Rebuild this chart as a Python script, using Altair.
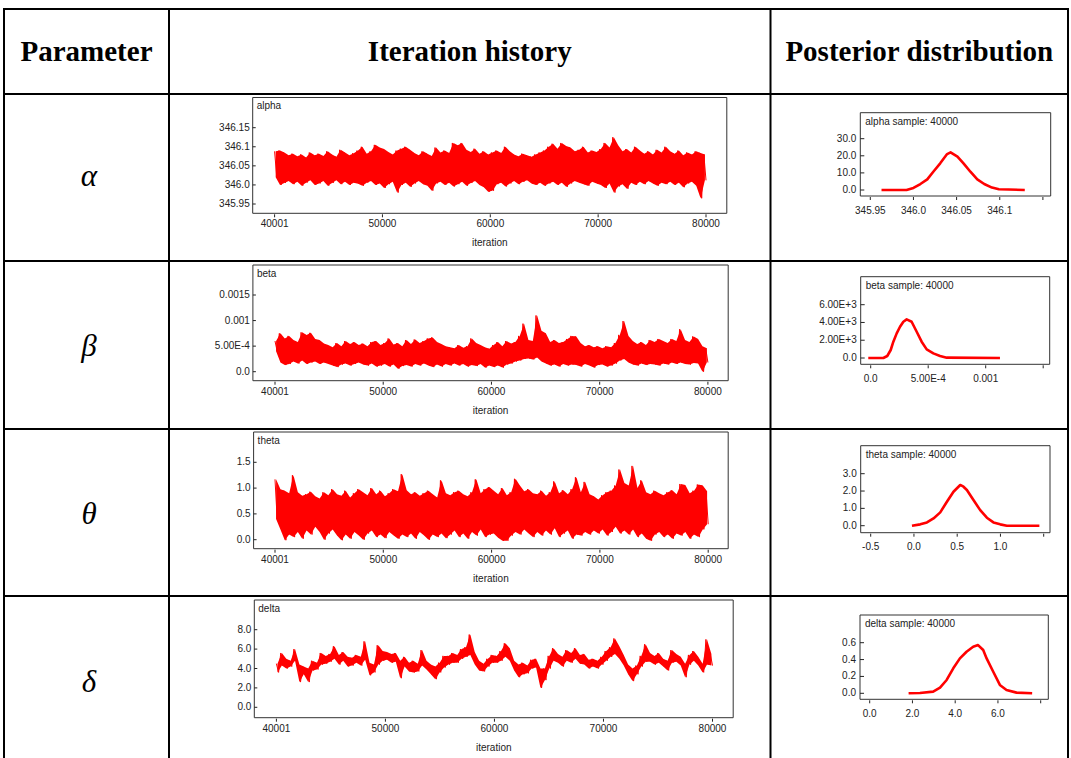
import altair as alt
import pandas as pd

# ------------------------------------------------------------------ data
headers = ["Parameter", "Iteration history", "Posterior distribution"]
parameters = ["α", "β", "θ", "δ"]
trace_names = ["alpha", "beta", "theta", "delta"]
sample_size = 40000

iter_ticks = [40001, 50000, 60000, 70000, 80000]
iter_tick_labels = ["40001", "50000", "60000", "70000", "80000"]

# iteration-history envelopes (upper / lower excursions, 100 blocks of 400 iterations)
alpha_hi = [346.088, 346.090, 346.085, 346.078, 346.082, 346.075, 346.080, 346.072, 346.085, 346.078,
            346.082, 346.076, 346.088, 346.080, 346.074, 346.092, 346.085, 346.078, 346.083, 346.090,
            346.100, 346.082, 346.088, 346.105, 346.098, 346.094, 346.086, 346.080, 346.090, 346.095,
            346.100, 346.092, 346.084, 346.078, 346.088, 346.082, 346.076, 346.098, 346.085, 346.090,
            346.084, 346.110, 346.104, 346.110, 346.092, 346.086, 346.095, 346.082, 346.088, 346.080,
            346.085, 346.090, 346.084, 346.100, 346.088, 346.080, 346.075, 346.082, 346.078, 346.074,
            346.080, 346.085, 346.090, 346.100, 346.108, 346.095, 346.110, 346.102, 346.098, 346.088,
            346.092, 346.100, 346.085, 346.090, 346.086, 346.094, 346.110, 346.098, 346.125, 346.104,
            346.088, 346.094, 346.085, 346.100, 346.090, 346.082, 346.088, 346.080, 346.092, 346.085,
            346.100, 346.088, 346.082, 346.090, 346.078, 346.085, 346.080, 346.088, 346.084, 346.080]
alpha_lo = [346.020, 346.000, 346.005, 346.010, 346.002, 346.008, 345.998, 346.006, 346.012, 346.000,
            346.004, 346.010, 345.998, 346.005, 346.012, 346.002, 346.008, 346.000, 346.006, 346.003,
            345.998, 346.006, 346.010, 346.000, 346.004, 345.992, 346.002, 346.008, 345.980, 346.000,
            346.006, 345.995, 346.004, 346.010, 346.002, 345.998, 345.985, 346.004, 346.008, 346.000,
            346.006, 345.996, 346.002, 346.008, 345.998, 346.005, 346.010, 346.000, 345.994, 345.982,
            345.985, 346.002, 346.006, 345.996, 346.004, 346.010, 346.002, 346.008, 346.012, 346.004,
            346.000, 346.006, 345.998, 346.004, 346.008, 346.000, 346.006, 345.995, 346.004, 346.010,
            346.006, 346.002, 345.998, 346.008, 346.004, 346.000, 345.992, 346.004, 345.980, 345.996,
            346.002, 345.990, 346.006, 346.000, 346.008, 346.002, 346.010, 346.004, 345.998, 346.006,
            346.002, 346.008, 346.000, 346.006, 345.994, 346.004, 346.008, 345.998, 345.965, 346.012]

beta_hi = [6.0e-4, 7.5e-4, 6.5e-4, 7.0e-4, 6.2e-4, 5.8e-4, 7.7e-4, 7.2e-4, 7.6e-4, 6.4e-4,
           6.2e-4, 5.5e-4, 5.2e-4, 4.8e-4, 5.6e-4, 5.0e-4, 6.0e-4, 5.4e-4, 5.8e-4, 5.2e-4,
           5.5e-4, 5.0e-4, 5.8e-4, 6.0e-4, 5.2e-4, 5.6e-4, 6.5e-4, 5.3e-4, 5.6e-4, 5.0e-4,
           6.2e-4, 5.4e-4, 6.3e-4, 5.6e-4, 6.0e-4, 6.5e-4, 6.7e-4, 5.8e-4, 5.4e-4, 5.0e-4,
           4.8e-4, 4.6e-4, 5.2e-4, 4.7e-4, 5.0e-4, 6.5e-4, 5.6e-4, 5.2e-4, 4.8e-4, 4.5e-4,
           5.2e-4, 5.8e-4, 5.0e-4, 6.0e-4, 5.5e-4, 5.8e-4, 7.0e-4, 9.4e-4, 6.2e-4, 6.0e-4,
           1.1e-3, 8.0e-4, 7.5e-4, 5.8e-4, 6.2e-4, 5.6e-4, 5.8e-4, 6.4e-4, 7.0e-4, 6.9e-4,
           5.6e-4, 5.0e-4, 5.2e-4, 4.8e-4, 5.0e-4, 4.6e-4, 5.0e-4, 4.8e-4, 5.6e-4, 7.2e-4,
           9.9e-4, 7.0e-4, 6.0e-4, 5.4e-4, 5.8e-4, 5.2e-4, 6.2e-4, 5.8e-4, 6.4e-4, 6.0e-4,
           5.6e-4, 6.4e-4, 6.0e-4, 8.3e-4, 6.2e-4, 5.8e-4, 6.9e-4, 6.4e-4, 5.0e-4, 4.6e-4]
beta_lo = [4.0e-4, 1.8e-4, 1.3e-4, 1.5e-4, 2.0e-4, 1.6e-4, 2.2e-4, 1.5e-4, 1.8e-4, 2.0e-4,
           1.5e-4, 1.8e-4, 1.5e-4, 1.2e-4, 0.9e-4, 1.4e-4, 1.6e-4, 1.2e-4, 1.5e-4, 1.8e-4,
           1.4e-4, 1.2e-4, 1.6e-4, 1.0e-4, 1.2e-4, 1.5e-4, 1.0e-4, 1.4e-4, 0.6e-4, 1.1e-4,
           1.3e-4, 1.0e-4, 1.5e-4, 1.2e-4, 1.6e-4, 1.2e-4, 0.9e-4, 1.4e-4, 1.0e-4, 1.5e-4,
           1.2e-4, 1.6e-4, 1.2e-4, 1.5e-4, 1.0e-4, 1.3e-4, 1.1e-4, 1.5e-4, 0.8e-4, 1.2e-4,
           0.9e-4, 1.2e-4, 0.8e-4, 1.4e-4, 1.6e-4, 2.0e-4, 2.2e-4, 2.5e-4, 2.6e-4, 2.4e-4,
           2.8e-4, 2.0e-4, 1.6e-4, 1.2e-4, 1.4e-4, 1.0e-4, 1.5e-4, 1.2e-4, 1.4e-4, 1.3e-4,
           1.0e-4, 1.5e-4, 1.2e-4, 0.8e-4, 1.3e-4, 1.4e-4, 1.0e-4, 1.2e-4, 1.6e-4, 2.2e-4,
           2.5e-4, 1.8e-4, 1.4e-4, 1.2e-4, 1.6e-4, 1.3e-4, 1.5e-4, 1.4e-4, 1.2e-4, 1.6e-4,
           1.4e-4, 1.8e-4, 1.5e-4, 1.8e-4, 1.5e-4, 1.4e-4, 1.7e-4, 1.6e-4, 0.0, 1.8e-4]

theta_hi = [1.17, 0.98, 0.95, 0.90, 1.25, 0.92, 0.85, 0.88, 0.93, 0.84,
            0.80, 0.92, 0.86, 0.98, 0.88, 0.85, 0.95, 0.82, 0.90, 0.98,
            0.92, 0.86, 1.00, 0.88, 0.95, 0.84, 0.90, 0.98, 0.94, 1.27,
            0.96, 0.88, 0.92, 0.85, 0.90, 0.95, 0.88, 0.82, 1.15, 0.90,
            0.86, 0.92, 0.95, 0.88, 0.84, 0.92, 1.17, 0.90, 0.98, 1.02,
            0.95, 0.88, 1.00, 0.86, 0.92, 1.18, 1.05, 0.94, 0.98, 0.90,
            0.88, 0.95, 0.85, 0.92, 1.13, 0.90, 0.96, 0.88, 0.98, 1.21,
            0.92, 1.12, 0.88, 0.84, 0.78, 0.86, 0.92, 0.95, 1.05, 1.36,
            1.10, 1.05, 1.43, 1.00, 1.15, 0.92, 0.88, 0.95, 0.90, 0.86,
            0.92, 0.96, 0.88, 1.08, 1.06, 0.90, 0.95, 1.07, 1.05, 0.94]
theta_lo = [0.40, 0.20, -0.01, 0.10, 0.05, 0.15, 0.02, 0.18, 0.10, 0.25,
            0.15, 0.00, 0.12, 0.20, 0.08, -0.01, 0.10, 0.02, 0.15, 0.08,
            0.00, 0.12, 0.18, 0.05, 0.10, 0.03, 0.15, 0.08, 0.02, 0.10,
            0.05, 0.12, 0.02, 0.15, 0.08, 0.00, 0.10, 0.05, 0.12, 0.03,
            0.10, 0.18, 0.05, 0.12, 0.02, 0.15, 0.08, 0.20, 0.05, 0.10,
            0.12, 0.04, -0.02, -0.02, 0.08, 0.15, 0.10, 0.20, 0.12, 0.05,
            0.15, 0.08, 0.18, 0.10, 0.22, 0.05, 0.12, 0.18, 0.02, 0.10,
            0.08, 0.15, 0.10, 0.18, 0.12, 0.20, 0.08, 0.15, 0.25, 0.12,
            0.18, 0.10, 0.20, 0.05, 0.12, 0.02, -0.02, 0.10, 0.15, 0.05,
            0.10, 0.02, 0.12, 0.08, 0.15, 0.02, 0.10, 0.05, 0.20, 0.30]

delta_hi = [4.5, 5.6, 5.0, 4.8, 6.0, 4.4, 4.2, 4.0, 4.8, 4.6,
            5.6, 5.3, 5.5, 6.3, 5.4, 5.7, 5.2, 5.1, 5.4, 5.2,
            6.8, 4.6, 4.4, 6.4, 5.8, 5.7, 5.5, 5.6, 4.8, 5.2,
            4.6, 4.8, 4.5, 5.9, 4.8, 4.4, 4.2, 4.6, 5.3, 5.3,
            5.6, 5.4, 6.0, 6.2, 7.5, 5.7, 4.8, 4.5, 5.0, 5.4,
            5.3, 5.8, 6.6, 6.1, 4.8, 4.4, 4.6, 4.3, 4.9, 5.0,
            4.0, 4.0, 5.3, 6.1, 5.5, 5.2, 5.9, 5.6, 6.1, 5.4,
            5.5, 4.9, 5.0, 4.8, 5.2, 5.8, 6.2, 7.1, 6.3, 5.4,
            4.4, 4.0, 4.3, 5.3, 6.5, 5.6, 5.3, 5.6, 5.0, 4.8,
            5.9, 5.5, 5.2, 4.5, 5.4, 5.8, 5.2, 4.5, 7.0, 5.5]
delta_lo = [3.6, 4.3, 4.0, 4.2, 4.8, 2.6, 3.4, 2.6, 3.8, 3.9,
            4.4, 4.5, 4.7, 5.0, 4.4, 4.8, 4.2, 4.3, 4.6, 4.3,
            4.9, 3.3, 3.6, 4.4, 4.8, 4.9, 4.6, 4.7, 3.0, 4.2,
            3.7, 3.6, 3.7, 4.3, 3.9, 3.4, 2.9, 3.6, 4.1, 4.4,
            4.6, 4.6, 5.0, 5.2, 5.4, 4.4, 3.8, 3.7, 4.2, 4.6,
            4.6, 4.8, 5.2, 4.8, 3.8, 3.1, 3.4, 3.5, 4.0, 4.1,
            2.0, 2.8, 4.0, 4.8, 4.6, 4.2, 4.8, 4.6, 5.0, 4.5,
            4.4, 4.0, 4.2, 4.0, 4.4, 4.8, 5.2, 5.5, 5.0, 4.3,
            3.4, 2.7, 3.4, 4.2, 4.7, 4.7, 4.4, 4.6, 4.2, 3.8,
            4.6, 4.7, 4.3, 3.1, 4.4, 4.8, 4.3, 3.6, 4.4, 4.3]

# posterior densities
alpha_dens_x = [345.963, 345.992, 346.000, 346.008, 346.016, 346.023, 346.031, 346.039, 346.043,
                346.051, 346.058, 346.066, 346.074, 346.082, 346.091, 346.099, 346.129]
alpha_dens_y = [0, 0, 1.2, 3.5, 6.2, 10.7, 15.6, 21.0, 22.0, 19.5, 15.6, 10.7, 6.2, 3.5, 1.4, 0.4, 0]
beta_dens_x = [-0.21e-4, 1.1e-4, 1.44e-4, 1.74e-4, 1.97e-4, 2.26e-4, 2.55e-4, 2.84e-4, 3.13e-4, 3.56e-4,
               4.0e-4, 4.43e-4, 4.87e-4, 5.45e-4, 6.03e-4, 6.61e-4, 11.24e-4]
beta_dens_y = [0, 0, 225, 900, 1835, 2771, 3520, 4082, 4344, 4082, 2958, 1835, 974, 524, 225, 37, 0]
theta_dens_x = [-0.023, 0.073, 0.15, 0.226, 0.304, 0.381, 0.457, 0.535, 0.573, 0.612, 0.688,
                0.766, 0.843, 0.919, 0.997, 1.074, 1.45]
theta_dens_y = [0, 0.077, 0.19, 0.42, 0.77, 1.38, 1.96, 2.35, 2.25, 2.06, 1.48, 0.90, 0.46,
                0.19, 0.077, 0, 0]
delta_dens_x = [1.82, 2.35, 2.97, 3.29, 3.6, 3.91, 4.22, 4.53, 4.84, 5.07, 5.31, 5.47, 5.78,
                6.09, 6.4, 6.87, 7.6]
delta_dens_y = [0, 0.004, 0.02, 0.067, 0.158, 0.296, 0.414, 0.493, 0.552, 0.572, 0.513, 0.414,
                0.256, 0.099, 0.039, 0.008, 0]

# axis ticks
trace_yticks = {
    "alpha": ([345.95, 346.0, 346.05, 346.1, 346.15], ["345.95", "346.0", "346.05", "346.1", "346.15"]),
    "beta": ([0.0, 5e-4, 1e-3, 1.5e-3], ["0.0", "5.00E-4", "0.001", "0.0015"]),
    "theta": ([0.0, 0.5, 1.0, 1.5], ["0.0", "0.5", "1.0", "1.5"]),
    "delta": ([0.0, 2.0, 4.0, 6.0, 8.0], ["0.0", "2.0", "4.0", "6.0", "8.0"]),
}
dens_xticks = {
    "alpha": ([345.95, 346.0, 346.05, 346.1, 346.15], ["345.95", "346.0", "346.05", "346.1", ""]),
    "beta": ([0.0, 5e-4, 1e-3, 1.5e-3], ["0.0", "5.00E-4", "0.001", ""]),
    "theta": ([-0.5, 0.0, 0.5, 1.0, 1.5], ["-0.5", "0.0", "0.5", "1.0", ""]),
    "delta": ([0.0, 2.0, 4.0, 6.0, 8.0], ["0.0", "2.0", "4.0", "6.0", ""]),
}
dens_yticks = {
    "alpha": ([0, 10, 20, 30], ["0.0", "10.0", "20.0", "30.0"]),
    "beta": ([0, 2000, 4000, 6000], ["0.0", "2.00E+3", "4.00E+3", "6.00E+3"]),
    "theta": ([0, 1, 2, 3], ["0.0", "1.0", "2.0", "3.0"]),
    "delta": ([0, 0.2, 0.4, 0.6], ["0.0", "0.2", "0.4", "0.6"]),
}

traces = {"alpha": (alpha_hi, alpha_lo), "beta": (beta_hi, beta_lo),
          "theta": (theta_hi, theta_lo), "delta": (delta_hi, delta_lo)}
densities = {"alpha": (alpha_dens_x, alpha_dens_y), "beta": (beta_dens_x, beta_dens_y),
             "theta": (theta_dens_x, theta_dens_y), "delta": (delta_dens_x, delta_dens_y)}

# ------------------------------------------------------------------ layout (pixels)
W, H = 1071, 758
RED = "#ff0000"
INK = "#222222"
SANS = "Liberation Sans"
SERIF = "Liberation Serif"

col_x = [4, 169, 770.5, 1068]
row_y = [9, 94, 261, 429, 596]
trace_layout = {
    "alpha": dict(frame=(252.7, 726.8, 97.5, 213.3), xr=(274.6, 706.0), yr=(204.0, 127.7)),
    "beta": dict(frame=(252.9, 728.2, 265.0, 380.7), xr=(275.0, 707.9), yr=(371.7, 295.0)),
    "theta": dict(frame=(253.6, 728.2, 432.0, 548.7), xr=(275.0, 708.2), yr=(539.7, 462.3)),
    "delta": dict(frame=(254.3, 733.2, 600.0, 717.7), xr=(276.4, 712.5), yr=(707.3, 629.7)),
}
dens_layout = {
    "alpha": dict(frame=(860.3, 1050.7, 112.7, 196.0), xr=(870.3, 1042.9), yr=(190.0, 138.7)),
    "beta": dict(frame=(860.7, 1049.7, 276.7, 364.3), xr=(870.7, 1043.2), yr=(358.0, 304.7)),
    "theta": dict(frame=(860.7, 1050.0, 445.7, 532.7), xr=(870.7, 1043.7), yr=(525.7, 473.7)),
    "delta": dict(frame=(860.0, 1048.3, 615.0, 699.3), xr=(869.7, 1040.7), yr=(693.3, 642.7)),
}
greek_pos = [(89, 186), (89, 356), (89, 524), (89, 692)]


def panel(line_df, xd, xr, yd, yr, frame, xt, xtl, yt, ytl, lw, xlab_off, ylab_gap, ytick_len,
          band_df=None):
    x0, x1, y0, y1 = frame
    xs = alt.Scale(domain=list(xd), range=list(xr), nice=False, zero=False)
    ys = alt.Scale(domain=list(yd), range=list(yr), nice=False, zero=False)
    xt_df = pd.DataFrame({"v": xt, "lab": xtl})
    yt_df = pd.DataFrame({"v": yt, "lab": ytl})
    out = []
    if band_df is not None:
        out.append(alt.Chart(band_df).mark_area(color=RED, opacity=1, interpolate="linear").encode(
            x=alt.X("x:Q", scale=xs, axis=None), y=alt.Y("lo:Q", scale=ys, axis=None), y2="hi:Q"))
    out.append(alt.Chart(line_df).mark_line(color=RED, strokeWidth=lw, strokeJoin="round").encode(
        x=alt.X("x:Q", scale=xs, axis=None), y=alt.Y("y:Q", scale=ys, axis=None)))
    out.append(alt.Chart(xt_df).mark_rule(color=INK, strokeWidth=1).encode(
        x=alt.X("v:Q", scale=xs, axis=None), y=alt.value(y1 + 1), y2=alt.value(y1 + 4)))
    out.append(alt.Chart(xt_df).mark_text(font=SANS, fontSize=10, color=INK, align="center",
                                          baseline="middle").encode(
        x=alt.X("v:Q", scale=xs, axis=None), y=alt.value(y1 + xlab_off), text="lab:N"))
    out.append(alt.Chart(yt_df).mark_rule(color=INK, strokeWidth=1).encode(
        y=alt.Y("v:Q", scale=ys, axis=None), x=alt.value(x0), x2=alt.value(x0 + ytick_len)))
    out.append(alt.Chart(yt_df).mark_text(font=SANS, fontSize=10, color=INK, align="right",
                                          baseline="middle").encode(
        y=alt.Y("v:Q", scale=ys, axis=None), x=alt.value(x0 - ylab_gap), text="lab:N"))
    return out


layers = []

# table grid
seg = {"x": [], "x2": [], "y": [], "y2": []}
for yy in row_y:
    seg["x"].append(col_x[0]); seg["x2"].append(col_x[-1]); seg["y"].append(yy); seg["y2"].append(yy)
for xx in col_x:
    seg["x"].append(xx); seg["x2"].append(xx); seg["y"].append(row_y[0] - 1); seg["y2"].append(H + 5)
layers.append(alt.Chart(pd.DataFrame(seg)).mark_rule(color="black", strokeWidth=2).encode(
    x=alt.X("x:Q", scale=None), x2="x2:Q", y=alt.Y("y:Q", scale=None), y2="y2:Q"))

# panel frames
fr = {"x": [], "x2": [], "y": [], "y2": []}
for lay in list(trace_layout.values()) + list(dens_layout.values()):
    x0, x1, y0, y1 = lay["frame"]
    fr["x"].append(x0); fr["x2"].append(x1); fr["y"].append(y0); fr["y2"].append(y1)
layers.append(alt.Chart(pd.DataFrame(fr)).mark_rect(fillOpacity=0, stroke="#333333", strokeWidth=1).encode(
    x=alt.X("x:Q", scale=None), x2="x2:Q", y=alt.Y("y:Q", scale=None), y2="y2:Q"))

# headers
hd = pd.DataFrame({"x": [(col_x[i] + col_x[i + 1]) / 2 for i in range(3)], "y": [52] * 3, "t": headers})
layers.append(alt.Chart(hd).mark_text(font=SERIF, fontWeight="bold", fontSize=29, color="black",
                                      align="center", baseline="middle").encode(
    x=alt.X("x:Q", scale=None), y=alt.Y("y:Q", scale=None), text="t:N"))

# greek parameter symbols
gk = pd.DataFrame({"x": [p[0] for p in greek_pos], "y": [p[1] for p in greek_pos], "t": parameters})
layers.append(alt.Chart(gk).mark_text(font=SERIF, fontStyle="italic", fontSize=31, color="black",
                                      align="center", baseline="alphabetic").encode(
    x=alt.X("x:Q", scale=None), y=alt.Y("y:Q", scale=None), text="t:N"))

# panel titles and axis titles
tt = {"x": [], "y": [], "t": []}
ct = {"x": [], "y": [], "t": []}
for name in trace_names:
    x0, x1, y0, y1 = trace_layout[name]["frame"]
    tt["x"].append(x0 + 4); tt["y"].append(y0 + 8.5); tt["t"].append(name)
    ct["x"].append((x0 + x1) / 2); ct["y"].append(y1 + 30); ct["t"].append("iteration")
    x0, x1, y0, y1 = dens_layout[name]["frame"]
    tt["x"].append(x0 + 5); tt["y"].append(y0 + 9); tt["t"].append(f"{name} sample: {sample_size}")
layers.append(alt.Chart(pd.DataFrame(tt)).mark_text(font=SANS, fontSize=10, color=INK, align="left",
                                                    baseline="middle").encode(
    x=alt.X("x:Q", scale=None), y=alt.Y("y:Q", scale=None), text="t:N"))
layers.append(alt.Chart(pd.DataFrame(ct)).mark_text(font=SANS, fontSize=10, color=INK, align="center",
                                                    baseline="middle").encode(
    x=alt.X("x:Q", scale=None), y=alt.Y("y:Q", scale=None), text="t:N"))

# trace panels
for name in trace_names:
    hi, lo = traces[name]
    n = min(len(hi), len(lo))
    its, vals = [], []
    step = (iter_ticks[-1] - iter_ticks[0]) / (2 * n - 1)
    for i in range(n):
        its.append(iter_ticks[0] + (2 * i) * step); vals.append(hi[i])
        its.append(iter_ticks[0] + (2 * i + 1) * step); vals.append(lo[i])
    df = pd.DataFrame({"x": its, "y": vals})
    band = pd.DataFrame({"x": [iter_ticks[0] + (2 * i + 0.5) * step for i in range(n)],
                         "hi": hi[:n], "lo": lo[:n]})
    lay = trace_layout[name]
    yt, ytl = trace_yticks[name]
    layers += panel(df, (iter_ticks[0], iter_ticks[-1]), lay["xr"], (yt[0], yt[-1]), lay["yr"],
                    lay["frame"], iter_ticks, iter_tick_labels, yt, ytl, 1.0, 11, 3, 3, band_df=band)

# density panels
for name in trace_names:
    dx, dy = densities[name]
    df = pd.DataFrame({"x": dx, "y": dy})
    lay = dens_layout[name]
    xt, xtl = dens_xticks[name]
    yt, ytl = dens_yticks[name]
    layers += panel(df, (xt[0], xt[-1]), lay["xr"], (yt[0], yt[-1]), lay["yr"],
                    lay["frame"], xt, xtl, yt, ytl, 2.6, 14.5, 4, 4)

chart = alt.layer(*layers).resolve_scale(x="independent", y="independent").properties(
    width=W, height=H, padding=0, autosize="none", background="white"
).configure_view(stroke=None)

chart.save("out.html", embed_options={"renderer": "svg", "actions": False})
